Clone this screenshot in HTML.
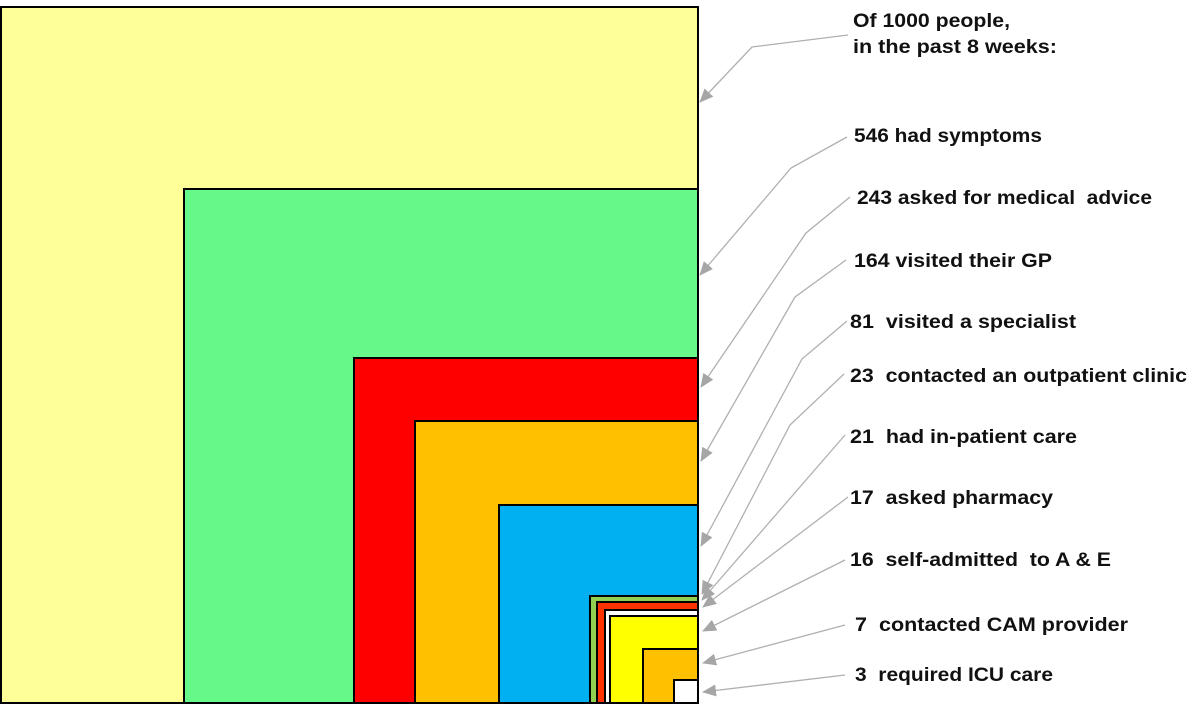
<!DOCTYPE html>
<html><head><meta charset="utf-8"><style>
html,body{margin:0;padding:0;background:#fff;width:1200px;height:708px;overflow:hidden}
svg text{font-family:"Liberation Sans",Arial,sans-serif;font-weight:bold;font-size:19.5px;fill:#111;white-space:pre}
</style></head><body>
<svg width="1200" height="708" viewBox="0 0 1200 708" xmlns="http://www.w3.org/2000/svg">
<defs><marker id="a" markerWidth="14" markerHeight="12" refX="13" refY="6" orient="auto" markerUnits="userSpaceOnUse"><path d="M0,0 L14,6 L0,12 z" fill="#a6a6a6"/></marker></defs>
<g stroke="#000" stroke-width="2">
<rect x="1" y="7" width="697" height="696" fill="#ffff99"/>
<rect x="184" y="189" width="514" height="514" fill="#66f98a"/>
<rect x="354" y="358" width="344" height="345" fill="#ff0000"/>
<rect x="415" y="421" width="283" height="282" fill="#ffc000"/>
<rect x="499" y="505" width="199" height="198" fill="#00b0f0"/>
<rect x="590" y="596" width="108" height="107" fill="#92d050"/>
<rect x="597" y="602" width="101" height="101" fill="#ff3300"/>
<rect x="605" y="610" width="93" height="93" fill="#ffffff"/>
<rect x="610" y="616" width="88" height="87" fill="#ffff00"/>
<rect x="643" y="649" width="55" height="54" fill="#ffc000"/>
<rect x="674" y="680" width="24" height="23" fill="#ffffff"/>
</g>
<g stroke="#b0b0b0" stroke-width="1.3" fill="none" marker-end="url(#a)">
<polyline points="848,35 752,47 700,102"/>
<polyline points="847,137 791,168 700,275"/>
<polyline points="850,197 806,233 701,387"/>
<polyline points="846,260 795,297 701,461"/>
<polyline points="847,321 802,359 701,546"/>
<polyline points="844,374 790,425 702,594"/>
<polyline points="845,435 702,600"/>
<polyline points="848,497 703,607"/>
<polyline points="845,560 703,631"/>
<polyline points="845,625 703,663"/>
<polyline points="845,675 703,692"/>
</g>
<text x="853" y="27" textLength="157" lengthAdjust="spacingAndGlyphs">Of 1000 people,</text>
<text x="853" y="53" textLength="204" lengthAdjust="spacingAndGlyphs">in the past 8 weeks:</text>
<text x="854" y="142" textLength="188" lengthAdjust="spacingAndGlyphs">546 had symptoms</text>
<text x="857" y="204" textLength="295" lengthAdjust="spacingAndGlyphs">243 asked for medical  advice</text>
<text x="854" y="267" textLength="198" lengthAdjust="spacingAndGlyphs">164 visited their GP</text>
<text x="850" y="328" textLength="226" lengthAdjust="spacingAndGlyphs">81  visited a specialist</text>
<text x="850" y="382" textLength="337" lengthAdjust="spacingAndGlyphs">23  contacted an outpatient clinic</text>
<text x="850" y="443" textLength="227" lengthAdjust="spacingAndGlyphs">21  had in-patient care</text>
<text x="850" y="504" textLength="203" lengthAdjust="spacingAndGlyphs">17  asked pharmacy</text>
<text x="850" y="566" textLength="261" lengthAdjust="spacingAndGlyphs">16  self-admitted  to A &amp; E</text>
<text x="855" y="631" textLength="273" lengthAdjust="spacingAndGlyphs">7  contacted CAM provider</text>
<text x="855" y="681" textLength="198" lengthAdjust="spacingAndGlyphs">3  required ICU care</text>
</svg>
</body></html>
